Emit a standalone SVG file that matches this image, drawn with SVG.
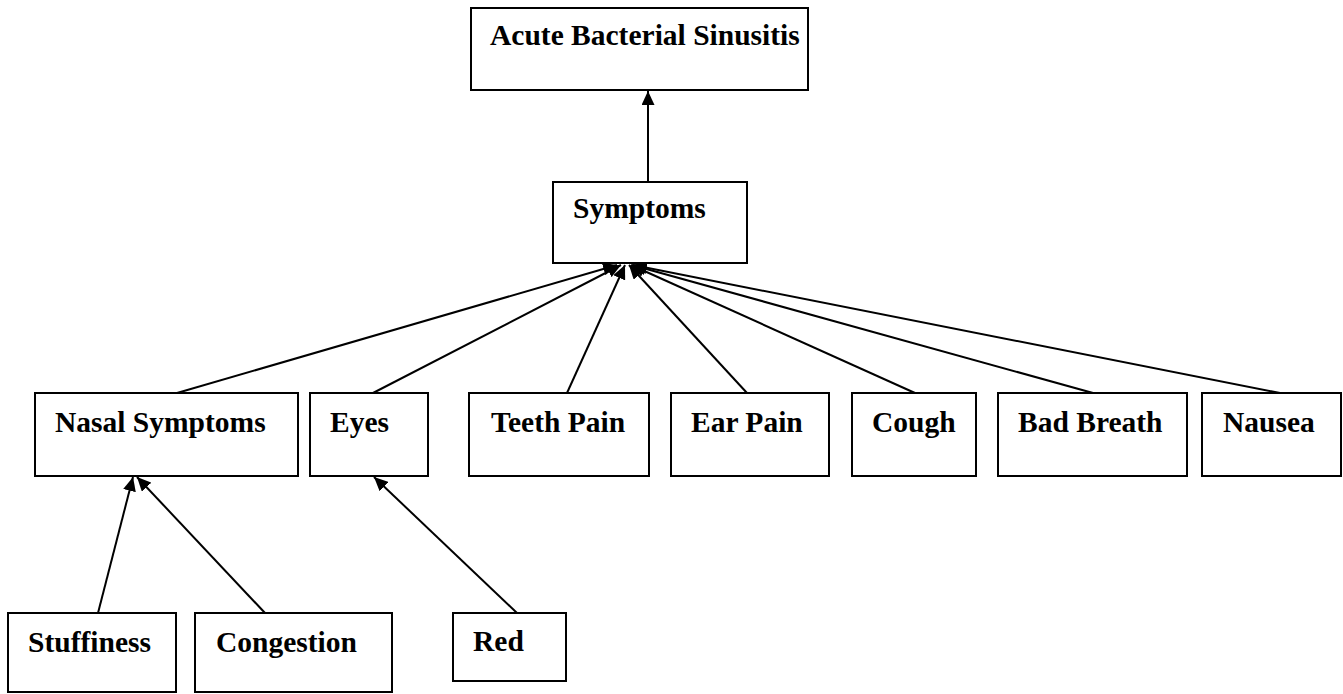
<svg xmlns="http://www.w3.org/2000/svg" width="1343" height="694" viewBox="0 0 1343 694">
<style>
.box{fill:#fff;stroke:#000;stroke-width:2}
.lbl{font-family:"Liberation Serif","Times New Roman",serif;font-weight:bold;font-size:29.5px;fill:#000}
.edge{stroke:#000;stroke-width:2;fill:none;marker-end:url(#ah)}
</style>
<defs>
<marker id="ah" markerUnits="userSpaceOnUse" markerWidth="15" markerHeight="13" refX="14" refY="6.5" orient="auto">
<path d="M0,0 L14,6.5 L0,13 z" fill="#000"/>
</marker>
</defs>
<rect width="1343" height="694" fill="#fff"/>
<g id="connectors">
<line class="edge" x1="648" y1="182" x2="648" y2="91"/>
<line class="edge" x1="177" y1="393" x2="617" y2="265"/>
<line class="edge" x1="373" y1="393" x2="621" y2="265"/>
<line class="edge" x1="567" y1="393" x2="625" y2="265"/>
<line class="edge" x1="747" y1="393" x2="629" y2="265"/>
<line class="edge" x1="915" y1="393" x2="631" y2="265"/>
<line class="edge" x1="1093" y1="393" x2="632" y2="265"/>
<line class="edge" x1="1280" y1="393" x2="633" y2="265"/>
<line class="edge" x1="98" y1="613" x2="133" y2="477"/>
<line class="edge" x1="265" y1="613" x2="137" y2="477"/>
<line class="edge" x1="517" y1="613" x2="374" y2="477"/>
</g>
<g id="n-acute"><rect class="box" x="471" y="8" width="337" height="82"/><text class="lbl" x="490" y="45">Acute Bacterial Sinusitis</text></g>
<g id="n-symptoms"><rect class="box" x="553" y="182" width="194" height="81"/><text class="lbl" x="573" y="218">Symptoms</text></g>
<g id="n-nasal"><rect class="box" x="35" y="393" width="263" height="83"/><text class="lbl" x="55" y="432">Nasal Symptoms</text></g>
<g id="n-eyes"><rect class="box" x="310" y="393" width="118" height="83"/><text class="lbl" x="330" y="432">Eyes</text></g>
<g id="n-teeth"><rect class="box" x="469" y="393" width="180" height="83"/><text class="lbl" x="491" y="432">Teeth Pain</text></g>
<g id="n-ear"><rect class="box" x="671" y="393" width="158" height="83"/><text class="lbl" x="691" y="432">Ear Pain</text></g>
<g id="n-cough"><rect class="box" x="852" y="393" width="124" height="83"/><text class="lbl" x="872" y="432">Cough</text></g>
<g id="n-badbreath"><rect class="box" x="998" y="393" width="189" height="83"/><text class="lbl" x="1018" y="432">Bad Breath</text></g>
<g id="n-nausea"><rect class="box" x="1202" y="393" width="139" height="83"/><text class="lbl" x="1223" y="432">Nausea</text></g>
<g id="n-stuffiness"><rect class="box" x="8" y="613" width="168" height="79"/><text class="lbl" x="28" y="652">Stuffiness</text></g>
<g id="n-congestion"><rect class="box" x="195" y="613" width="197" height="79"/><text class="lbl" x="216" y="652">Congestion</text></g>
<g id="n-red"><rect class="box" x="453" y="613" width="113" height="68"/><text class="lbl" x="473" y="651">Red</text></g>
</svg>
